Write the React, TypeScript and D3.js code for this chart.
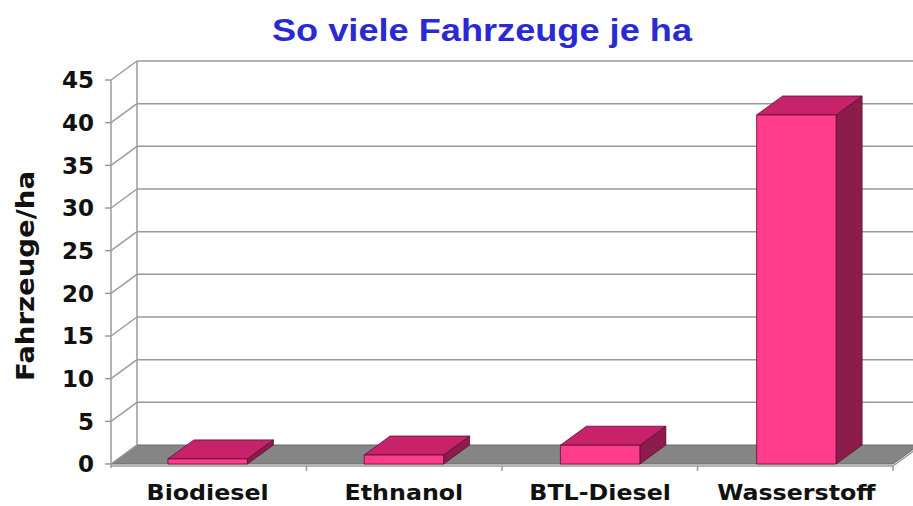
import { useEffect, useRef } from 'react';
import * as d3 from 'd3';

const CATEGORIES = ['Biodiesel', 'Ethnanol', 'BTL-Diesel', 'Wasserstoff'];
const VALUES = [0.6, 1.05, 2.2, 40.9];
const Y_TICKS = [0, 5, 10, 15, 20, 25, 30, 35, 40, 45];

const WIDTH = 913;
const HEIGHT = 506;
const DX = 26;
const DY = -19;
const FONT = 'DejaVu Sans, Verdana, sans-serif';

export default function App() {
  const svgRef = useRef<SVGSVGElement>(null);

  useEffect(() => {
    if (!svgRef.current) return;
    d3.select(svgRef.current).selectAll('*').remove();

    const svg = d3.select(svgRef.current)
      .attr('width', WIDTH)
      .attr('height', HEIGHT)
      .style('display', 'block')
      .style('background', '#fff');

    const x0 = 111;
    const x1 = 893;
    const y = d3.scaleLinear().domain([0, 45]).range([464, 80]);
    const x = d3.scaleBand<string>()
      .domain(CATEGORIES)
      .range([x0, x1])
      .paddingInner(0.595)
      .paddingOuter(0.29);

    // Title
    svg.append('text')
      .attr('x', 482)
      .attr('y', 41)
      .attr('text-anchor', 'middle')
      .attr('font-family', 'Liberation Sans, Arial, sans-serif')
      .attr('font-weight', 'bold')
      .attr('font-size', 31)
      .attr('textLength', 420)
      .attr('lengthAdjust', 'spacingAndGlyphs')
      .attr('fill', '#2a2ad2')
      .text('So viele Fahrzeuge je ha');

    // Back wall
    svg.append('rect')
      .attr('x', x0 + DX)
      .attr('y', y(45) + DY)
      .attr('width', x1 - x0)
      .attr('height', y(0) - y(45))
      .attr('fill', '#fff');

    // Floor
    svg.append('polygon')
      .attr('points', [
        [x0, y(0)], [x1, y(0)], [x1 + DX, y(0) + DY], [x0 + DX, y(0) + DY]
      ].map(p => p.join(',')).join(' '))
      .attr('fill', '#858585')
      .attr('stroke', '#6a6a6a')
      .attr('stroke-width', 1);

    // Gridlines on back wall + diagonals on left wall
    const grid = svg.append('g').attr('stroke', '#9a9a9a').attr('stroke-width', 1.5);
    Y_TICKS.forEach(t => {
      if (t > 0) {
        grid.append('line')
          .attr('x1', x0 + DX).attr('x2', x1 + DX)
          .attr('y1', y(t) + DY).attr('y2', y(t) + DY);
      }
      grid.append('line')
        .attr('x1', x0).attr('x2', x0 + DX)
        .attr('y1', y(t)).attr('y2', y(t) + DY);
      grid.append('line')
        .attr('x1', x0 - 6).attr('x2', x0)
        .attr('y1', y(t)).attr('y2', y(t));
    });
    grid.append('line')
      .attr('x1', x0 + DX).attr('x2', x0 + DX)
      .attr('y1', y(45) + DY).attr('y2', y(0) + DY);
    grid.append('line')
      .attr('x1', x0).attr('x2', x0)
      .attr('y1', y(45)).attr('y2', y(0) + 4);

    // Floor front edge and category ticks
    const base = svg.append('g').attr('stroke', '#9a9a9a').attr('stroke-width', 1.5);
    base.append('line')
      .attr('x1', x0).attr('x2', x1)
      .attr('y1', y(0) + 2).attr('y2', y(0) + 2);
    base.append('line')
      .attr('x1', x1).attr('x2', x1 + DX)
      .attr('y1', y(0) + 2).attr('y2', y(0) + 2 + DY);
    const catStep = (x1 - x0) / CATEGORIES.length;
    d3.range(1, CATEGORIES.length + 1).forEach(i => {
      const tx = x0 + catStep * i;
      base.append('line')
        .attr('x1', tx).attr('x2', tx)
        .attr('y1', y(0) + 2).attr('y2', y(0) + 7);
    });

    // Bars
    const bars = svg.append('g');
    CATEGORIES.forEach((c, i) => {
      const bx = x(c)!;
      const bw = x.bandwidth();
      const top = y(VALUES[i]);
      const bottom = y(0);
      const g = bars.append('g')
        .attr('stroke', '#5a0f30')
        .attr('stroke-width', 0.8)
        .attr('stroke-linejoin', 'round');
      // side
      g.append('polygon')
        .attr('points', [
          [bx + bw, top], [bx + bw + DX, top + DY], [bx + bw + DX, bottom + DY], [bx + bw, bottom]
        ].map(p => p.join(',')).join(' '))
        .attr('fill', '#8c1c4c');
      // top
      g.append('polygon')
        .attr('points', [
          [bx, top], [bx + bw, top], [bx + bw + DX, top + DY], [bx + DX, top + DY]
        ].map(p => p.join(',')).join(' '))
        .attr('fill', '#c8226a');
      // front
      g.append('rect')
        .attr('x', bx).attr('y', top)
        .attr('width', bw).attr('height', bottom - top)
        .attr('fill', '#ff3d8c');
    });

    // Y tick labels
    svg.append('g')
      .selectAll('text')
      .data(Y_TICKS)
      .enter()
      .append('text')
      .attr('x', 94)
      .attr('y', d => y(d))
      .attr('dy', '0.36em')
      .attr('text-anchor', 'end')
      .attr('font-family', FONT)
      .attr('font-weight', 'bold')
      .attr('font-size', 23)
      .attr('fill', '#111')
      .text(d => d);

    // Category labels
    svg.append('g')
      .selectAll('text')
      .data(CATEGORIES)
      .enter()
      .append('text')
      .attr('transform', d => `translate(${x(d)! + x.bandwidth() / 2}, 500) scale(1.08, 1)`)
      .attr('text-anchor', 'middle')
      .attr('font-family', FONT)
      .attr('font-weight', 'bold')
      .attr('font-size', 22)
      .attr('fill', '#111')
      .text(d => d);

    // Y axis title
    svg.append('text')
      .attr('transform', 'translate(34, 276) rotate(-90)')
      .attr('text-anchor', 'middle')
      .attr('font-family', FONT)
      .attr('font-weight', 'bold')
      .attr('font-size', 24)
      .attr('textLength', 210)
      .attr('lengthAdjust', 'spacingAndGlyphs')
      .attr('fill', '#111')
      .text('Fahrzeuge/ha');
  }, []);

  return (
    <div style={{ position: 'absolute', left: 0, top: 0 }}>
      <svg ref={svgRef} />
    </div>
  );
}
